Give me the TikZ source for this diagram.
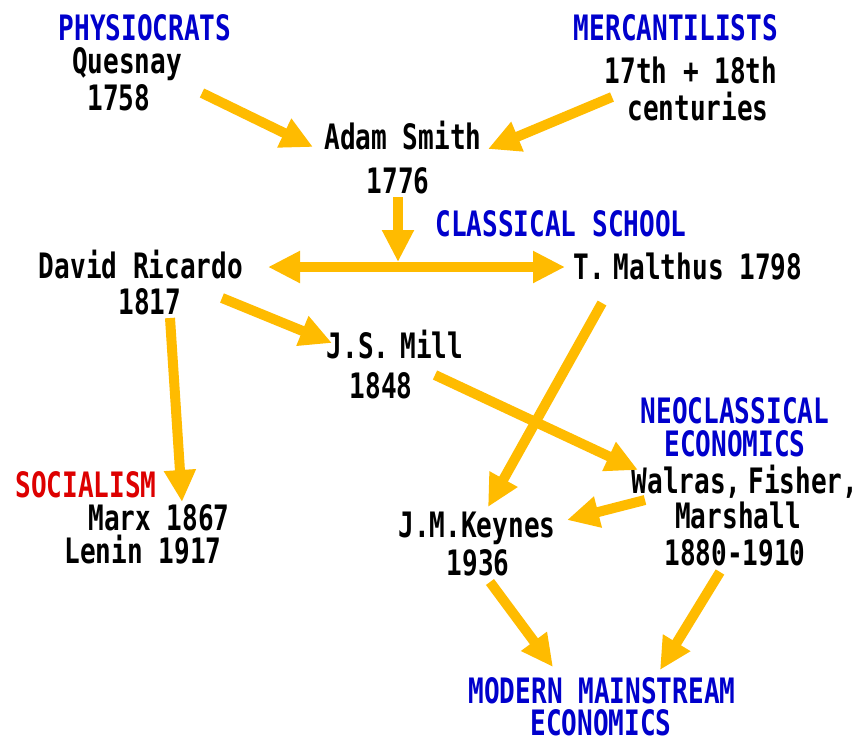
\documentclass[tikz,border=0pt]{standalone}
\usepackage{fontspec}
\usetikzlibrary{arrows.meta}
\newfontfamily\pixfont[FakeStretch=0.745]{DejaVu Sans Mono}
\definecolor{orangeC}{RGB}{255,187,0}
\definecolor{blueC}{RGB}{0,0,204}
\definecolor{redC}{RGB}{221,0,0}
\tikzset{
  txt/.style={inner sep=0pt, anchor=base, font=\pixfont\bfseries\fontsize{35}{35}\selectfont, text=black},
  head/.style={txt, text=blueC},
  headred/.style={txt, text=redC},
  arr/.style={draw=orangeC, line width=10pt, -{Triangle[length=32pt,width=30pt]}},
  darr/.style={draw=orangeC, line width=10pt, {Triangle[length=32pt,width=30pt]}-{Triangle[length=32pt,width=30pt]}}
}
\begin{document}
\begin{tikzpicture}[x=1pt,y=-1pt]
\useasboundingbox[fill=white] (0,0) rectangle (857,740);
% labels
\node[head] (phys) at (145,40) {PHYSIOCRATS};
\node[txt] (ques) at (127,73) {Quesnay};
\node[txt] (q1758) at (119,110) {1758};
\node[head] (merc) at (676,40) {MERCANTILISTS};
\node[txt] (cent1) at (691,83) {17th + 18th};
\node[txt] (cent2) at (698,120) {centuries};
\node[txt] (smith) at (403,149) {Adam Smith};
\node[txt] (s1776) at (398,193) {1776};
\node[head] (class) at (561,236) {CLASSICAL SCHOOL};
\node[txt] (ricardo) at (141,278) {David Ricardo};
\node[txt] (r1817) at (150,314) {1817};
\node[txt] (malthus) at (688,279) {T.\hspace{-7pt} Malthus 1798};
\node[txt] (mill) at (395,358) {J.S.\hspace{-5pt} Mill};
\node[txt] (m1848) at (381,398) {1848};
\node[head] (neo1) at (735,423) {NEOCLASSICAL};
\node[head] (neo2) at (735,456) {ECONOMICS};
\node[txt] (walras) at (745,493) {Walras,\hspace{-9pt} Fisher,};
\node[txt] (marshall) at (738,528) {Marshall};
\node[txt] (w1880) at (735,565) {1880-1910};
\node[headred] (soc) at (86,497) {SOCIALISM};
\node[txt] (marx) at (159,530) {Marx 1867};
\node[txt] (lenin) at (143,563) {Lenin 1917};
\node[txt] (keynes) at (477,537) {J.M.Keynes};
\node[txt] (k1936) at (478,575) {1936};
\node[head] (mod1) at (602,703) {MODERN MAINSTREAM};
\node[head] (mod2) at (601,735) {ECONOMICS};
% connector ends
\coordinate (a1s) at (202,93);  \coordinate (a1e) at (313,147);
\coordinate (a2s) at (612,97);  \coordinate (a2e) at (488,149);
\coordinate (a3s) at (398,197); \coordinate (a3e) at (398,262);
\coordinate (hl) at (268,267);  \coordinate (hr) at (565,267);
\coordinate (a5s) at (222,298); \coordinate (a5e) at (332,343);
\coordinate (a6s) at (170,318); \coordinate (a6e) at (182,502);
\coordinate (a7s) at (602,303); \coordinate (a7e) at (488,507);
\coordinate (a8s) at (435,375); \coordinate (a8e) at (638,470);
\coordinate (a9s) at (645,500); \coordinate (a9e) at (567,520);
\coordinate (a10s) at (490,582); \coordinate (a10e) at (553,667);
\coordinate (a11s) at (720,572); \coordinate (a11e) at (660,670);
% connectors
\draw[arr] (a1s) -- (a1e);
\draw[arr] (a2s) -- (a2e);
\draw[darr] (hl) -- (hr);
\draw[arr] (a3s) -- (a3e);
\draw[arr] (a5s) -- (a5e);
\draw[arr] (a6s) -- (a6e);
\draw[arr] (a7s) -- (a7e);
\draw[arr] (a8s) -- (a8e);
\draw[arr] (a9s) -- (a9e);
\draw[arr] (a10s) -- (a10e);
\draw[arr] (a11s) -- (a11e);
\end{tikzpicture}
\end{document}
